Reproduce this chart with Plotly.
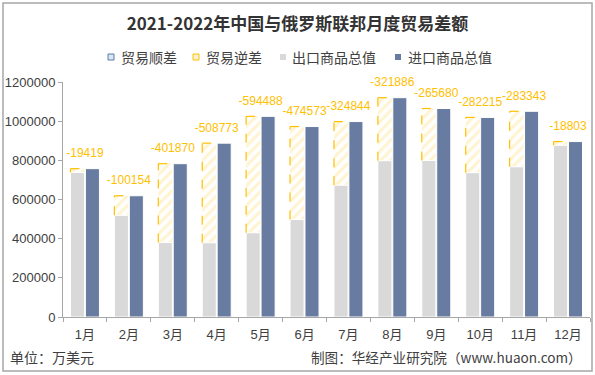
import plotly.graph_objects as go

months = ["1月", "2月", "3月", "4月", "5月", "6月", "7月", "8月", "9月", "10月", "11月", "12月"]
exports = [738000, 519000, 381000, 379000, 430000, 498000, 673000, 798000, 799000, 737000, 767000, 877000]
imports = [757419, 619154, 782870, 887773, 1024488, 972573, 997844, 1119886, 1064680, 1019215, 1050343, 895803]
balance = [-19419, -100154, -401870, -508773, -594488, -474573, -324844, -321886, -265680, -282215, -283343, -18803]
surplus = [None] * 12
legend_names = ["贸易顺差", "贸易逆差", "出口商品总值", "进口商品总值"]

W, H = 595, 375
L, R, T, B = 63, 5, 82, 58
pw, ph = W - L - R, H - T - B

GREY = "#D9D9D9"
BLUE = "#687BA0"
GOLD = "#FFC000"
TXT = "#404040"

off_a, wid = -0.33, 0.32
off_b = 0.01


def px(x):
    return (x - L) / pw


def py(y):
    return (H - B - y) / ph


fig = go.Figure()

fig.add_trace(go.Bar(
    name=legend_names[0], x=months, y=surplus, offset=off_a, width=wid, showlegend=False,
    marker=dict(color="white", line=dict(color="#5B7DA8", width=1),
                pattern=dict(shape="/", fgcolor="#9DB3CF", bgcolor="white", size=5, solidity=0.4)),
))

deficit_h = [imp - exp for imp, exp in zip(imports, exports)]
fig.add_trace(go.Bar(
    name=legend_names[1], x=months, y=deficit_h, base=exports, offset=off_a, width=wid, showlegend=False,
    marker=dict(color="white", line=dict(width=0),
                pattern=dict(shape="/", fgcolor="#FFE8A3", bgcolor="white", size=7, solidity=0.45)),
    hoverinfo="skip",
))

fig.add_trace(go.Bar(
    name=legend_names[2], x=months, y=exports, offset=off_a, width=wid, showlegend=False,
    marker=dict(color=GREY, line=dict(color="white", width=1)),
))

fig.add_trace(go.Bar(
    name=legend_names[3], x=months, y=imports, offset=off_b, width=wid, showlegend=False,
    marker=dict(color=BLUE, line=dict(color="white", width=1)),
))

fig.add_trace(go.Scatter(
    x=months, y=imports, mode="markers+text", text=[str(v) for v in balance],
    marker=dict(size=12, color="rgba(0,0,0,0)"),
    textposition="top center", textfont=dict(color=GOLD, size=12, family="Arial, Liberation Sans"),
    showlegend=False, cliponaxis=False, hoverinfo="skip",
))

# dashed outlines of deficit bars
shapes = []
for i, (exp, imp) in enumerate(zip(exports, imports)):
    x0 = i + off_a
    x1 = i + off_a + wid
    ln = dict(color=GOLD, width=1.2, dash="dash")
    shapes.append(dict(type="line", xref="x", yref="y", x0=x0, x1=x0, y0=exp, y1=imp, line=ln, layer="above"))
    shapes.append(dict(type="line", xref="x", yref="y", x0=x0, x1=x1, y0=imp, y1=imp, line=ln, layer="above"))

# outer border
shapes.append(dict(type="rect", xref="paper", yref="paper",
                   x0=px(3), x1=px(592), y0=py(371), y1=py(3),
                   line=dict(color="#A6A6A6", width=1.5), layer="below"))

# legend (custom, compact like the reference)
leg_y = 57
icon_x = [111, 196, 283, 398]
text_x = [119, 204, 290, 406]
icon_style = [
    dict(line=dict(color="#5B7DA8", width=1), fillcolor="#DCE6F2"),
    dict(line=dict(color=GOLD, width=1), fillcolor="#FFF2CC"),
    dict(line=dict(width=0), fillcolor=GREY),
    dict(line=dict(width=0), fillcolor=BLUE),
]
annotations = []
for ix, tx, st, name in zip(icon_x, text_x, icon_style, legend_names):
    shapes.append(dict(type="rect", xref="paper", yref="paper",
                       x0=px(ix - 3), x1=px(ix + 3), y0=py(leg_y + 3), y1=py(leg_y - 3), **st))
    annotations.append(dict(text=name, xref="paper", yref="paper", x=px(tx), y=py(leg_y),
                            xanchor="left", yanchor="middle", showarrow=False,
                            font=dict(size=14, color=TXT)))

annotations += [
    dict(text="单位：万美元", xref="paper", yref="paper", x=px(8), y=py(357),
         xanchor="left", yanchor="middle", showarrow=False, font=dict(size=14, color=TXT)),
    dict(text="制图：华经产业研究院（www.huaon.com）", xref="paper", yref="paper",
         x=px(584), y=py(357),
         xanchor="right", yanchor="middle", showarrow=False, font=dict(size=13.6, color=TXT)),
]

fig.update_layout(
    width=W, height=H,
    margin=dict(l=L, r=R, t=T, b=B, autoexpand=False),
    paper_bgcolor="white", plot_bgcolor="white",
    barmode="overlay",
    showlegend=False,
    shapes=shapes,
    annotations=annotations,
    font=dict(family="Noto Sans CJK SC, Arial", color=TXT),
    title=dict(text="<b>2021-2022年中国与俄罗斯联邦月度贸易差额</b>",
               x=0.5, xref="container", xanchor="center", y=1 - 24 / H, yanchor="middle",
               font=dict(size=17, color="#333333", family="Noto Sans CJK SC")),
    xaxis=dict(type="category", showline=True, linecolor="#A6A6A6", linewidth=1,
               ticks="outside", tickson="boundaries", ticklen=4, tickcolor="#A6A6A6",
               ticklabelstandoff=5,
               tickfont=dict(size=13, color=TXT, family="Arial, Noto Sans CJK SC"),
               showgrid=False, range=[-0.5, 11.5]),
    yaxis=dict(range=[0, 1200000], dtick=200000, tickformat="d", showline=True,
               linecolor="#A6A6A6", linewidth=1, ticks="outside", ticklen=4, tickcolor="#A6A6A6",
               tickfont=dict(size=13, color=TXT, family="Arial, Liberation Sans"),
               showgrid=False, zeroline=False),
)

fig.write_html("out.html", config={"displayModeBar": False},
               post_script="document.body.style.margin='0';document.body.style.overflow='hidden';")
